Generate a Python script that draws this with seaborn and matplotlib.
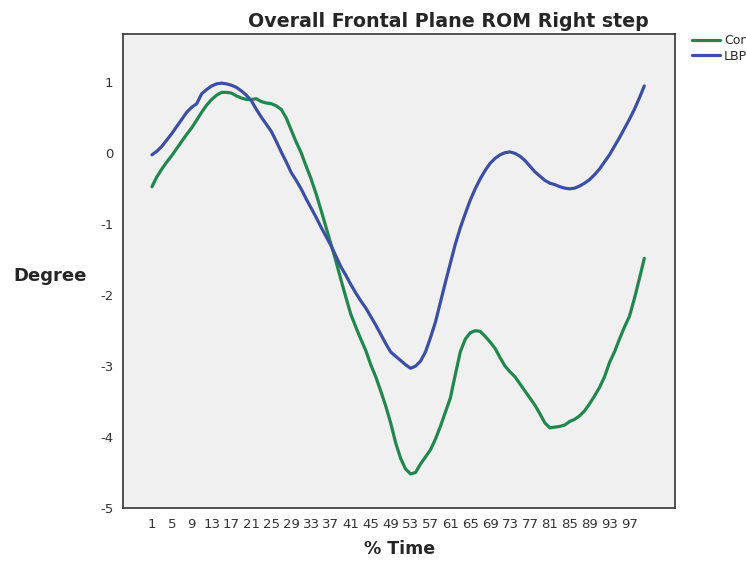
import pandas as pd
import matplotlib
matplotlib.use('Agg')
import matplotlib.pyplot as plt
from matplotlib.lines import Line2D
import seaborn as sns

# values
time_pct = list(range(1, 101))
control = [-0.47, -0.33, -0.22, -0.12, -0.03, 0.07, 0.17, 0.27, 0.36, 0.47,
           0.58, 0.68, 0.76, 0.82, 0.86, 0.86, 0.85, 0.81, 0.78, 0.76,
           0.76, 0.77, 0.73, 0.71, 0.70, 0.67, 0.62, 0.50, 0.33, 0.16,
           0.01, -0.18, -0.36, -0.57, -0.80, -1.04, -1.28, -1.52, -1.78, -2.03,
           -2.27, -2.45, -2.62, -2.78, -2.98, -3.15, -3.35, -3.56, -3.80, -4.08,
           -4.30, -4.45, -4.52, -4.50, -4.38, -4.28, -4.18, -4.03, -3.85, -3.65,
           -3.45, -3.12, -2.80, -2.62, -2.53, -2.50, -2.51, -2.58, -2.66, -2.75,
           -2.88, -3.00, -3.08, -3.15, -3.25, -3.35, -3.45, -3.55, -3.67, -3.80,
           -3.87, -3.86, -3.85, -3.83, -3.78, -3.75, -3.70, -3.63, -3.53, -3.42,
           -3.30, -3.15, -2.95, -2.80, -2.62, -2.45, -2.30, -2.05, -1.77, -1.48]
lbp = [-0.02, 0.03, 0.10, 0.19, 0.28, 0.38, 0.48, 0.58, 0.65, 0.70,
       0.84, 0.90, 0.95, 0.98, 0.99, 0.98, 0.96, 0.93, 0.88, 0.82,
       0.74, 0.62, 0.51, 0.41, 0.31, 0.17, 0.02, -0.12, -0.27, -0.38,
       -0.50, -0.64, -0.77, -0.90, -1.04, -1.17, -1.30, -1.45, -1.60, -1.72,
       -1.85, -1.97, -2.08, -2.18, -2.30, -2.42, -2.55, -2.68, -2.80, -2.86,
       -2.92, -2.98, -3.03, -3.00, -2.93, -2.80, -2.60, -2.38, -2.10, -1.82,
       -1.55, -1.28, -1.05, -0.85, -0.66, -0.50, -0.36, -0.24, -0.14, -0.07,
       -0.02, 0.01, 0.02, 0.00, -0.04, -0.10, -0.18, -0.26, -0.32, -0.38,
       -0.42, -0.44, -0.47, -0.49, -0.50, -0.49, -0.46, -0.42, -0.37, -0.30,
       -0.22, -0.12, -0.02, 0.10, 0.22, 0.35, 0.48, 0.62, 0.78, 0.95]
groups = ['Control', 'LBP']
x_ticks = list(range(1, 100, 4))
y_ticks = list(range(-5, 2))

df = pd.DataFrame({
    '% Time': time_pct * 2,
    'Degree': control + lbp,
    'Group': [groups[0]] * len(control) + [groups[1]] * len(lbp),
})

sns.set_style('white')
plt.rcParams['font.family'] = ['DejaVu Sans']
plt.rcParams['axes.unicode_minus'] = False

green = '#22874e'
blue = '#3d4fa3'
palette = {'Control': green, 'LBP': blue}

fig = plt.figure(figsize=(7.46, 5.61), dpi=100)
ax = fig.add_axes([0.165, 0.0945, 0.74, 0.8445])
sns.lineplot(data=df, x='% Time', y='Degree', hue='Group', palette=palette,
             linewidth=2.3, ax=ax, legend=False)

ax.set_facecolor('#f0f0f0')
ax.set_xlim(-4.8, 106.2)
ax.set_ylim(-5, 1.68)
ax.set_xticks(x_ticks)
ax.set_yticks(y_ticks)
ax.tick_params(direction='out', length=5, width=1, labelsize=9.5,
               colors='#333333', pad=2)
for s in ax.spines.values():
    s.set_color('#333333')
    s.set_linewidth(1.2)

ax.set_xlabel('% Time', fontweight='bold', fontsize=12.5, labelpad=7)
ax.set_ylabel('Degree', fontweight='bold', fontsize=13, rotation=0,
              ha='left', va='center')
ax.yaxis.set_label_coords(-0.199, 0.49)
ax.set_title('Overall Frontal Plane ROM Right step', fontweight='bold',
             fontsize=13.7, x=0.589, pad=5)

handles = [Line2D([], [], color=palette[g], linewidth=2.3) for g in groups]
fig.legend(handles, groups, loc='upper left', bbox_to_anchor=(692 / 746, 1 - 34 / 561),
           frameon=False, fontsize=9, handlelength=2.2, handletextpad=0.35,
           labelspacing=0.2, borderpad=0, borderaxespad=0)

fig.savefig('out.png', dpi=100)
